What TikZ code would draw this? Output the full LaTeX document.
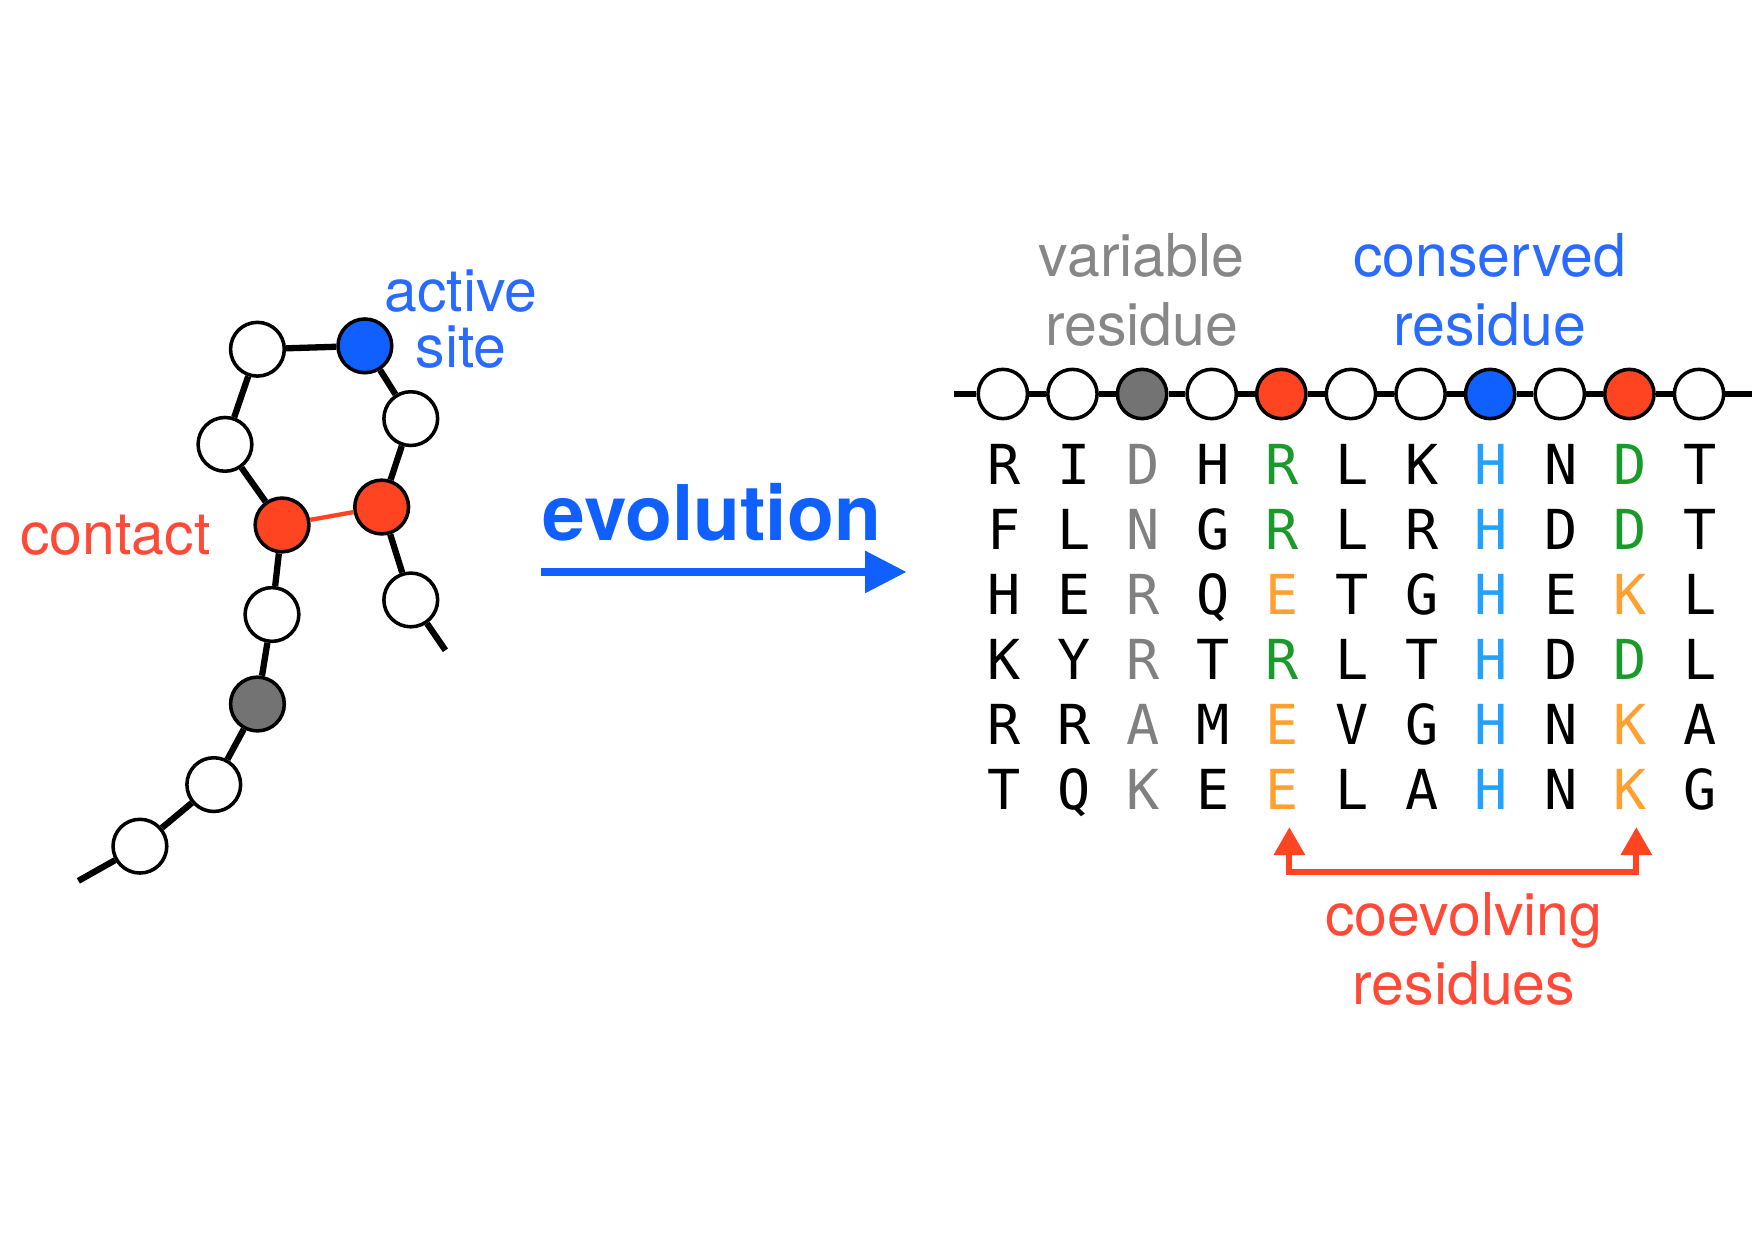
\documentclass[tikz,border=0pt]{standalone}
\usepackage{fontspec}
\setmainfont{TeX Gyre Heros}
\newfontfamily\seqfont{DejaVu Sans Mono}
\usetikzlibrary{arrows.meta}
\definecolor{resred}{HTML}{FF4422}
\definecolor{resblue}{HTML}{1060FF}
\definecolor{resgray}{HTML}{737373}
\definecolor{labblue}{HTML}{2A6BFF}
\definecolor{labred}{HTML}{FF4A38}
\definecolor{labgray}{HTML}{878787}
\definecolor{varcol}{HTML}{808080}
\definecolor{concol}{HTML}{22A2FF}
\definecolor{coevgreen}{HTML}{1A9A2A}
\definecolor{coevorange}{HTML}{FFA030}

\begin{document}
\begin{tikzpicture}[x=0.01cm, y=-0.01cm,
  res/.style={circle, draw=black, line width=0.9pt, fill=#1, minimum size=0.48cm, inner sep=0pt},
  res/.default=white,
  rowres/.style={res=#1, minimum size=0.44cm},
  bond/.style={line width=1.6pt, black},
  lab/.style={font=\fontsize{15}{15}\selectfont, align=center},
  seq/.style={font=\seqfont\fontsize{14}{14}\selectfont, inner sep=0pt, text height=10pt, text depth=0pt}]
  \useasboundingbox (0,0) rectangle (1568,1108);

  % === Folded chain ===
  \coordinate (tailL) at (70,787);
  \node[res] (n1) at (125,756) {};
  \node[res] (n2) at (191,701) {};
  \node[res=resgray] (n3) at (230,629) {};
  \node[res] (n4) at (243,549) {};
  \node[res=resred] (n5) at (252,469) {};
  \node[res] (n6) at (201,397) {};
  \node[res] (n7) at (230,312) {};
  \node[res=resblue] (n8) at (326,309) {};
  \node[res] (n9) at (367,374) {};
  \node[res=resred] (n10) at (341,453) {};
  \node[res] (n11) at (367,536) {};
  \coordinate (tailR) at (398,581);

  \foreach \a/\b in {tailL/n1, n1/n2, n2/n3, n3/n4, n4/n5, n5/n6, n6/n7, n7/n8, n8/n9, n9/n10, n10/n11, n11/tailR}
    \draw[bond] (\a) -- (\b);
  % contact between the two red residues
  \draw[line width=1.1pt, resred] (n5) -- (n10);

  \node[lab, text=labblue, font=\fontsize{15}{14.2}\selectfont] (active) at (412,285) {active\\site};
  \node[lab, text=labred] (contact) at (103,478) {contact};

  % === Arrow ===
  \node[font=\bfseries\fontsize{19.5}{19.5}\selectfont, text=resblue] (evo) at (636,458) {evolution};
  \coordinate (evoL) at (483,511);
  \coordinate (evoR) at (810,511);
  \draw[-{Triangle[length=0.37cm, width=0.36cm]}, line width=2pt, resblue] (evoL) -- (evoR);

  % === Sequence and alignment ===
  \coordinate (rowL) at (852,352);
  \coordinate (rowR) at (1565,352);
  \foreach \i/\cc in {1/white, 2/white, 3/resgray, 4/white, 5/resred, 6/white, 7/white, 8/resblue, 9/white, 10/resred, 11/white}
    \node[rowres=\cc] (r\i) at ({896+62.2*(\i-1)},352) {};
  \draw[bond] (rowL) -- (r1);
  \foreach \i [count=\j from 2] in {1,...,10}
    \draw[bond] (r\i) -- (r\j);
  \draw[bond] (r11) -- (rowR);

  \foreach \seqrow [count=\r] in {
    {R/black, I/black, D/varcol, H/black, R/coevgreen, L/black, K/black, H/concol, N/black, D/coevgreen, T/black},
    {F/black, L/black, N/varcol, G/black, R/coevgreen, L/black, R/black, H/concol, D/black, D/coevgreen, T/black},
    {H/black, E/black, R/varcol, Q/black, E/coevorange, T/black, G/black, H/concol, E/black, K/coevorange, L/black},
    {K/black, Y/black, R/varcol, T/black, R/coevgreen, L/black, T/black, H/concol, D/black, D/coevgreen, L/black},
    {R/black, R/black, A/varcol, M/black, E/coevorange, V/black, G/black, H/concol, N/black, K/coevorange, A/black},
    {T/black, Q/black, K/varcol, E/black, E/coevorange, L/black, A/black, H/concol, N/black, K/coevorange, G/black}}
    \foreach \aa/\cc [count=\c] in \seqrow
      \node[seq, text=\cc] (s\r-\c) at ({897+62.2*(\c-1)},{415+58.2*(\r-1)}) {\aa};

  \node[lab, text=labgray, font=\fontsize{15}{17.6}\selectfont] (variable) at (1020,259) {variable\\residue};
  \node[lab, text=labblue, font=\fontsize{15}{17.6}\selectfont] (conserved) at (1331,259) {conserved\\residue};

  % coevolving pair
  \coordinate (cvL) at (1152,739);
  \coordinate (cvR) at (1462,739);
  \draw[{Triangle[length=0.25cm, width=0.27cm]}-{Triangle[length=0.25cm, width=0.27cm]}, line width=1.5pt, resred] (cvL) -- ++(0,40) -| (cvR);
  \node[lab, text=labred, font=\fontsize{15}{17.6}\selectfont] (coev) at (1308,848) {coevolving\\residues};
\end{tikzpicture}
\end{document}
